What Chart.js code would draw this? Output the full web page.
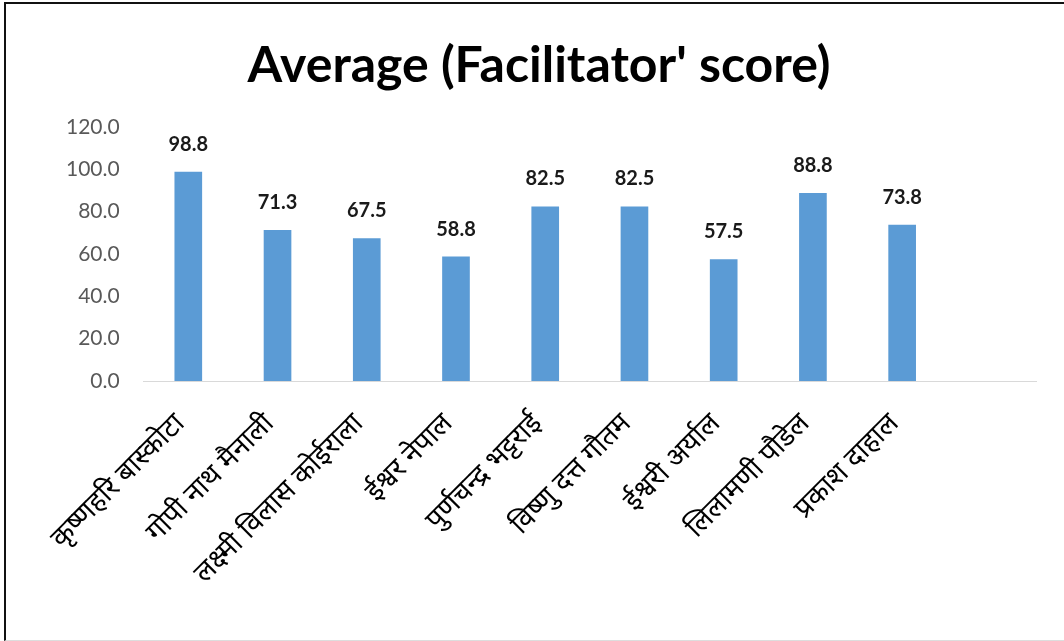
<!DOCTYPE html>
<html lang="en">

<head>
    <meta charset="UTF-8" />
    <title>Average (Facilitator' score)</title>
    <style>
        html, body { margin: 0; padding: 0; background: #fff; }
        #wrap {
            position: relative;
            box-sizing: border-box;
            border-left: 2px solid #111;
            border-top: 2px solid #111;
            border-bottom: 1px solid #ddd;
            margin-left: 4px;
            margin-top: 2px;
            width: 1060px;
            height: 639px;
        }
    </style>
</head>

<body>
    <script src="https://cdn.jsdelivr.net/npm/chart.js"></script>

    <div id="wrap">
        <canvas id="chart" aria-label="Average (Facilitator' score)" role="img"></canvas>
    </div>
    <script>
        "use strict";
        // names (last slot is an empty category, as in the original sheet)
        const names = [
            "कृष्णहरि बास्कोटा",
            "गोपी नाथ मैनाली",
            "लक्ष्मी विलास कोईराला",
            "ईश्वर नेपाल",
            "पुर्णचन्द्र भट्टराई",
            "विष्णु दत्त गौतम",
            "ईश्वरी अर्याल",
            "लिलामणी पौडेल",
            "प्रकाश दाहाल",
            ""
        ];
        const scores = [98.8, 71.3, 67.5, 58.8, 82.5, 82.5, 57.5, 88.8, 73.8, null];
        const yTicks = [0, 20, 40, 60, 80, 100, 120];

        const devFont = "'Noto Sans Devanagari', 'Lohit Devanagari', 'Mangal', 'Noto Sans', sans-serif";

        // draws the value above each bar
        const barValues = {
            id: "barValues",
            afterDatasetsDraw(chart) {
                const ctx = chart.ctx;
                const meta = chart.getDatasetMeta(0);
                ctx.save();
                ctx.font = "bold 20px Lato, sans-serif";
                ctx.fillStyle = "#1a1a1a";
                ctx.textAlign = "center";
                ctx.textBaseline = "alphabetic";
                meta.data.forEach((bar, i) => {
                    const v = scores[i];
                    if (v === null) return;
                    ctx.fillText(v.toFixed(1), bar.x, bar.y - 21);
                });
                ctx.restore();
            }
        };

        const ctx = document.getElementById("chart").getContext("2d");
        const myChart = new Chart(ctx, {
            type: "bar",
            data: {
                labels: names,
                datasets: [
                    {
                        label: "Average",
                        data: scores,
                        backgroundColor: "#5b9bd5",
                        borderWidth: 0,
                        barPercentage: 0.62,
                        categoryPercentage: 0.5,
                    }
                ],
            },
            plugins: [barValues],
            options: {
                responsive: true,
                maintainAspectRatio: false,
                animation: false,
                layout: {
                    padding: { left: 36, right: 28, top: 0, bottom: 0 }
                },
                plugins: {
                    legend: { display: false },
                    tooltip: { enabled: false },
                    title: {
                        display: true,
                        text: "Average (Facilitator' score)",
                        color: "#000",
                        font: { family: "Lato, sans-serif", size: 50, weight: "bold" },
                        padding: { top: 32, bottom: 31 }
                    }
                },
                scales: {
                    x: {
                        grid: { display: false },
                        border: { display: true, color: "#d9d9d9", width: 1 },
                        ticks: {
                            color: "#000",
                            autoSkip: false,
                            minRotation: 45,
                            maxRotation: 45,
                            padding: 20,
                            labelOffset: -6,
                            font: { family: devFont, size: 28 }
                        },
                        afterFit: function (scale) {
                            scale.height = 259;
                        }
                    },
                    y: {
                        min: 0,
                        max: 120,
                        grid: { display: false, drawTicks: false },
                        border: { display: false },
                        afterBuildTicks: function (scale) {
                            scale.ticks = yTicks.map(v => ({ value: v }));
                        },
                        ticks: {
                            color: "#595959",
                            padding: 24,
                            font: { family: "Lato, sans-serif", size: 21 },
                            callback: function (value) {
                                return Number(value).toFixed(1);
                            }
                        }
                    }
                }
            },
        });
    </script>
</body>

</html>
